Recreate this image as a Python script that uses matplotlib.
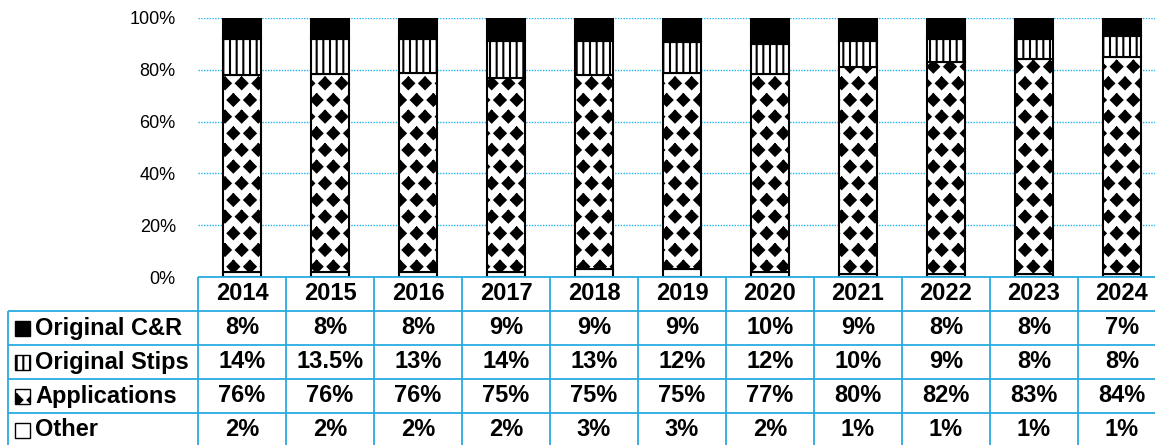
import numpy as np
import matplotlib
matplotlib.use("Agg")
import matplotlib.pyplot as plt
import matplotlib.hatch as mhatch
from matplotlib.patches import Rectangle
from matplotlib.path import Path

years = ["2014", "2015", "2016", "2017", "2018", "2019", "2020", "2021", "2022", "2023", "2024"]
series_names = ["Original C&R", "Original Stips", "Applications", "Other"]
original_cr = [8, 8, 8, 9, 9, 9, 10, 9, 8, 8, 7]
original_stips = [14, 13.5, 13, 14, 13, 12, 12, 10, 9, 8, 8]
applications = [76, 76, 76, 75, 75, 75, 77, 80, 82, 83, 84]
other = [2, 2, 2, 2, 3, 3, 2, 1, 1, 1, 1]
y_ticks = [0, 20, 40, 60, 80, 100]


# excel-like fill patterns: staggered diamonds and denser vertical stripes
class Diamonds(mhatch.Shapes):
    size = 0.34
    filled = True

    def __init__(self, hatch, density):
        self.num_rows = hatch.count("*") * density
        path = Path.unit_regular_polygon(4)
        self.shape_vertices = path.vertices
        self.shape_codes = np.full(len(path.vertices), Path.LINETO, dtype=Path.code_type)
        self.shape_codes[0] = Path.MOVETO
        super().__init__(hatch, density)


class Stips(mhatch.VerticalHatch):
    def __init__(self, hatch, density):
        super().__init__(hatch, density)
        self.num_lines = int(hatch.count("|") * density * 2.5)
        self.num_vertices = self.num_lines * 2


mhatch._hatch_types[mhatch._hatch_types.index(mhatch.Stars)] = Diamonds
mhatch._hatch_types[mhatch._hatch_types.index(mhatch.VerticalHatch)] = Stips

plt.rcParams["font.family"] = ["Liberation Sans", "DejaVu Sans"]
plt.rcParams["hatch.linewidth"] = 1.5

GRID = "#1FB5EA"
TABLE = "#29ABE2"
W, H = 1155, 445
FS = 17

fig = plt.figure(figsize=(W / 100, H / 100), dpi=100)
left = 198 / W
width = 11 * 88 / W
ax = fig.add_axes([left, 168 / H, width, 259 / H])

x = np.arange(len(years))
data = np.array([original_cr, original_stips, applications, other], dtype=float)
pct = data / data.sum(axis=0) * 100

styles = {
    "Original C&R": dict(color="black", hatch=None),
    "Original Stips": dict(color="white", hatch="|"),
    "Applications": dict(color="white", hatch="*"),
    "Other": dict(color="white", hatch=None),
}

bottom = np.zeros(len(years))
for i in [3, 2, 1, 0]:
    name = series_names[i]
    ax.bar(x, pct[i], bottom=bottom, width=0.44, color=styles[name]["color"],
           hatch=styles[name]["hatch"], edgecolor="black", linewidth=1.5, zorder=3)
    bottom += pct[i]

ax.set_xlim(-0.5, len(years) - 0.5)
ax.set_ylim(0, 100)
ax.set_yticks(y_ticks)
ax.set_yticklabels([f"{v}%" for v in y_ticks], fontsize=13)
ax.tick_params(axis="y", length=0, pad=16)
ax.set_xticks([])
ax.yaxis.grid(True, color=GRID, linestyle=(0, (1, 1)), linewidth=1.0)
ax.set_axisbelow(True)
for s in ax.spines.values():
    s.set_visible(False)

# data table under the bars
tax = fig.add_axes([left, -2 / H, width, 170 / H])
tax.set_xlim(-0.5, len(years) - 0.5)
tax.set_ylim(5, 0)
tax.axis("off")

col_w = 88
label_left = -0.5 - 190 / col_w
n = len(years)
lk = dict(color=TABLE, linewidth=1.3, clip_on=False)
tax.hlines(0, -0.5, n - 0.5, **lk)
for r in range(1, 6):
    tax.hlines(r, label_left, n - 0.5, **lk)
for k in range(n + 1):
    tax.vlines(k - 0.5, 0, 5, **lk)
tax.vlines(label_left, 1, 5, **lk)

for i, yr in enumerate(years):
    tax.text(i, 0.5, yr, ha="center", va="center", fontsize=FS, fontweight="bold")

for r, name in enumerate(series_names):
    row_y = r + 1.5
    for i in range(n):
        tax.text(i, row_y, f"{data[r, i]:g}%", ha="center", va="center",
                 fontsize=FS, fontweight="bold")
    kw, kh = 15 / col_w, 15 / 34
    tax.add_patch(Rectangle((-0.5 - 183 / col_w, row_y - kh / 2), kw, kh,
                            facecolor=styles[name]["color"], hatch=styles[name]["hatch"],
                            edgecolor="black", linewidth=1.0, clip_on=False))
    tax.text(-0.5 - 163 / col_w, row_y, name, ha="left", va="center",
             fontsize=FS, fontweight="bold")

fig.savefig("out.png", dpi=100)
